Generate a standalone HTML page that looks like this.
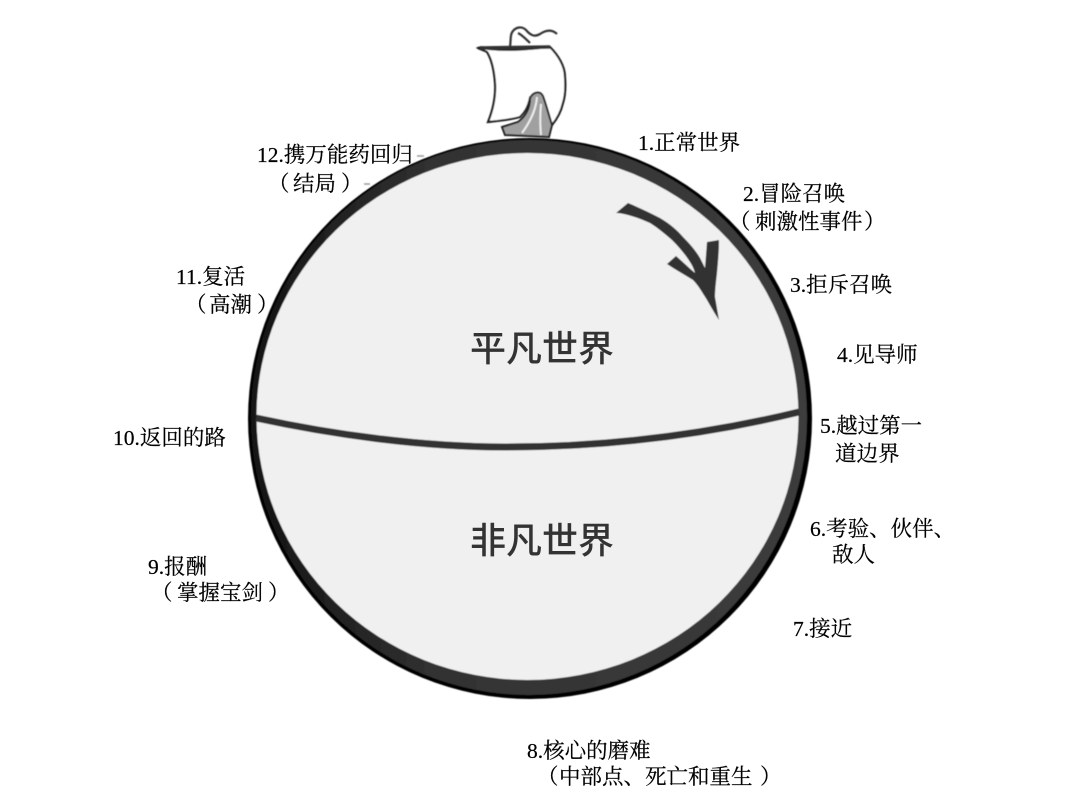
<!DOCTYPE html>
<html><head><meta charset="utf-8"><style>
html,body{margin:0;padding:0;background:#fff;width:1080px;height:800px;overflow:hidden}
svg{display:block}
.t{font-family:"Liberation Serif","Noto Serif CJK SC",serif;font-size:21.5px;fill:#000;stroke:#000;stroke-width:.2}
.c{font-family:"Liberation Sans","Noto Sans CJK SC",sans-serif;font-size:36px;fill:#333;font-weight:500}
</style></head><body>
<svg width="1080" height="800" viewBox="0 0 1080 800" xmlns="http://www.w3.org/2000/svg">
<defs>
<linearGradient id="r" x1="0" y1="0" x2="1" y2="0"><stop offset="0" stop-color="#141414"/><stop offset=".35" stop-color="#333"/><stop offset="1" stop-color="#3c3c3c"/></linearGradient>
<filter id="b" x="-5%" y="-5%" width="110%" height="110%"><feGaussianBlur stdDeviation=".6"/></filter>
</defs>
<g filter="url(#b)">
<ellipse cx="530" cy="418.5" rx="282" ry="280.5" fill="#060606"/>
<ellipse cx="529" cy="417.5" rx="278" ry="277.5" fill="url(#r)"/>
<ellipse cx="527.5" cy="416.5" rx="271" ry="263.5" fill="#f0f0f0"/>
<path d="M256 418C330 434 420 447 505 447C600 447 700 436 799 412" fill="none" stroke="#333" stroke-width="7"/>
<path d="M616 213L628 203C640 208 650 213 660 218C670 224 677 230 683 237C690 244 696 251 700 258L705 268L707 242L719 240C719 252 718 262 717 273C716 282 715 290 715 297L719 320C715 314 711 307 707 300C702 292 698 285 693 280C685 275 676 270 667 264L676 256C683 262 689 268 695 273C694 269 692 265 690 262C685 254 679 247 672 240C665 234 658 228 650 223C643 220 636 217 628 215C624 214 620 213 616 213Z" fill="#333"/>
<path d="M478 48C482 46 486 49 490 49C510 51 530 49 550 47C558 55 565 66 565 77C566 90 565 97 563 103C561 112 557 119 552 125C548 118 540 110 537 103L530 98C528 108 524 113 520 117C510 120 498 121 488 122C492 112 496 98 495 83C494 70 492 60 487 52C484 50 481 50 478 48Z" fill="#fff" stroke="#222" stroke-width="2.2"/>
<path d="M480 48L550 47" stroke="#333" stroke-width="3.5" fill="none"/>
<path d="M502 127L518 122C526 116 530 108 530 98C533 92 540 90 543 96C546 104 548 112 552 125L549 137L505 135Z" fill="#a0a0a0" stroke="#222" stroke-width="2"/>
<path d="M537 97C536 110 530 122 522 133M541 104C540 115 540 125 541 135" fill="none" stroke="#eee" stroke-width="2"/>
<path d="M510 47C511 40 510 34 513 31C516 27 522 26 526 30C531 36 535 37 540 34C546 30 552 29 557 34M518 33C522 35 526 39 530 43" fill="none" stroke="#333" stroke-width="2.2"/>
<path d="M417 156h7M364 184h6" stroke="#999" stroke-width="1.5"/>
</g>
<text class="c" x="470" y="361">平凡世界</text>
<text class="c" x="470" y="553">非凡世界</text>
<text class="t" x="638" y="150">1.正常世界</text>
<text class="t" x="743" y="201">2.冒险召唤</text>
<text class="t" y="229"><tspan x="729">（</tspan><tspan x="755">刺激性事件</tspan><tspan x="864">）</tspan></text>
<text class="t" x="790" y="292">3.拒斥召唤</text>
<text class="t" x="837" y="362">4.见导师</text>
<text class="t" x="820" y="433">5.越过第一</text>
<text class="t" x="835" y="461">道边界</text>
<text class="t" x="810" y="536">6.考验、伙伴、</text>
<text class="t" x="832" y="562">敌人</text>
<text class="t" x="793" y="636">7.接近</text>
<text class="t" x="527" y="758">8.核心的磨难</text>
<text class="t" y="784"><tspan x="537">（</tspan><tspan x="559">中部点、死亡和重生</tspan><tspan x="760">）</tspan></text>
<text class="t" x="148" y="574">9.报酬</text>
<text class="t" y="600"><tspan x="151">（</tspan><tspan x="177">掌握宝剑</tspan><tspan x="268">）</tspan></text>
<text class="t" x="113" y="445">10.返回的路</text>
<text class="t" x="176" y="284">11.复活</text>
<text class="t" y="312"><tspan x="185">（</tspan><tspan x="209">高潮</tspan><tspan x="257">）</tspan></text>
<text class="t" x="257" y="162">12.携万能药回归</text>
<text class="t" y="191"><tspan x="268">（</tspan><tspan x="293">结局</tspan><tspan x="341">）</tspan></text>
</svg>
</body></html>
